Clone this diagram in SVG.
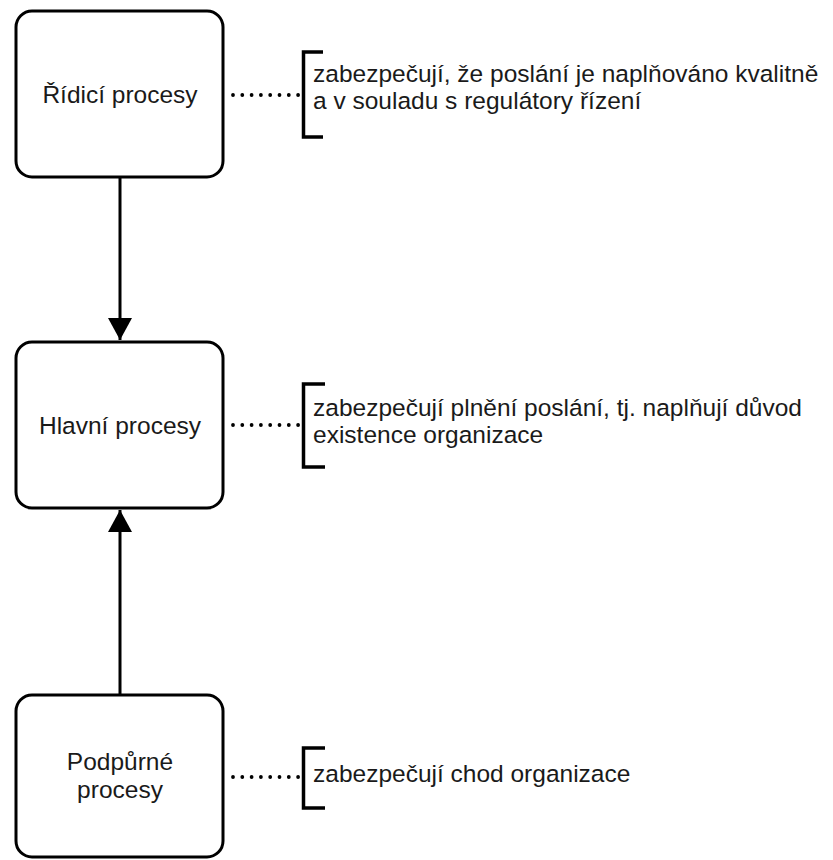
<svg xmlns="http://www.w3.org/2000/svg" width="833" height="860" viewBox="0 0 833 860">
<defs>
<style>
.box{fill:#fff;stroke:#000;stroke-width:3}
.t{font-family:"Liberation Sans",Arial,sans-serif;font-size:24.5px;fill:#1a1a1a}
.c{text-anchor:middle}
.dot{stroke:#000;stroke-width:3.8;stroke-linecap:round;stroke-dasharray:0 9.3;fill:none}
.br{stroke:#000;stroke-width:3.5;fill:none}
.ar{stroke:#000;stroke-width:3;fill:none}
</style>
<marker id="ah" markerUnits="userSpaceOnUse" markerWidth="26" markerHeight="24" refX="22" refY="12" orient="auto" viewBox="0 0 26 24">
<path d="M0,0 L22,12 L0,24 Z" fill="#000"/>
</marker>
</defs>
<g id="connectors">
<line class="ar" x1="120" y1="177" x2="120" y2="340" marker-end="url(#ah)"/>
<line class="ar" x1="120" y1="695" x2="120" y2="510" marker-end="url(#ah)"/>
<line class="dot" x1="233" y1="95" x2="299" y2="95"/>
<line class="dot" x1="233" y1="425" x2="299" y2="425"/>
<line class="dot" x1="233" y1="777" x2="299" y2="777"/>
</g>
<g id="n1">
<rect class="box" x="16" y="11" width="207" height="166" rx="16"/>
<text class="t c" x="120" y="102.5">Řídicí procesy</text>
</g>
<g id="n2">
<rect class="box" x="16" y="342" width="207" height="166" rx="16"/>
<text class="t c" x="120" y="433.5">Hlavní procesy</text>
</g>
<g id="n3">
<rect class="box" x="16" y="695" width="207" height="162" rx="16"/>
<text class="t c" x="120" y="770">Podpůrné</text>
<text class="t c" x="120" y="798">procesy</text>
</g>
<g id="a1">
<path class="br" d="M323,52 H303.5 V137 H323"/>
<text class="t" x="313" y="81.5">zabezpečují, že poslání je naplňováno kvalitně</text>
<text class="t" x="313" y="108.5">a v souladu s regulátory řízení</text>
</g>
<g id="a2">
<path class="br" d="M325,384 H303.5 V467 H325"/>
<text class="t" x="313" y="415.5">zabezpečují plnění poslání, tj. naplňují důvod</text>
<text class="t" x="313" y="443">existence organizace</text>
</g>
<g id="a3">
<path class="br" d="M325,748 H303.5 V808 H325"/>
<text class="t" x="313" y="782">zabezpečují chod organizace</text>
</g>
</svg>
